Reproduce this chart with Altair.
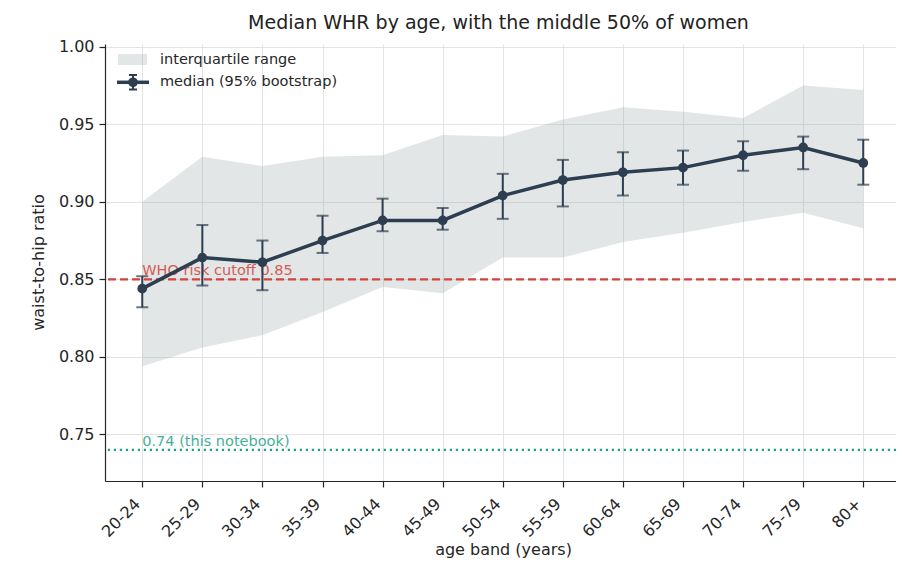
import json
import altair as alt
import pandas as pd

age_bands = ['20-24', '25-29', '30-34', '35-39', '40-44', '45-49', '50-54',
             '55-59', '60-64', '65-69', '70-74', '75-79', '80+']
median = [0.844, 0.864, 0.861, 0.875, 0.888, 0.888, 0.904, 0.914, 0.919, 0.922, 0.930, 0.935, 0.925]
ci_low = [0.832, 0.846, 0.843, 0.867, 0.881, 0.882, 0.889, 0.897, 0.904, 0.911, 0.920, 0.921, 0.911]
ci_high = [0.852, 0.885, 0.875, 0.891, 0.902, 0.896, 0.918, 0.927, 0.932, 0.933, 0.939, 0.942, 0.940]
q25 = [0.794, 0.806, 0.814, 0.829, 0.845, 0.841, 0.864, 0.864, 0.874, 0.880, 0.887, 0.893, 0.883]
q75 = [0.900, 0.929, 0.923, 0.929, 0.930, 0.943, 0.942, 0.953, 0.961, 0.958, 0.954, 0.975, 0.972]
y_ticks = [0.75, 0.80, 0.85, 0.90, 0.95, 1.00]
who_cutoff = 0.85
who_label = 'WHO risk cutoff 0.85'
notebook_value = 0.74
notebook_label = '0.74 (this notebook)'
legend_labels = ['interquartile range', 'median (95% bootstrap)']

df = pd.DataFrame({
    'i': list(range(len(age_bands))),
    'band': age_bands,
    'median': median,
    'lo': ci_low,
    'hi': ci_high,
    'q25': q25,
    'q75': q75,
})

FONT = 'DejaVu Sans'
NAVY = '#2c3e50'
RED = '#d4433a'
TEAL = '#1fa385'
BAND = '#9aa5aa'

xscale = alt.Scale(domain=[-0.62, 12.545], nice=False, zero=False)
yscale = alt.Scale(domain=[0.72, 1.0017], nice=False, zero=False)
xaxis = alt.Axis(values=list(range(len(age_bands))),
                 labelExpr=json.dumps(age_bands) + '[datum.value]',
                 labelAngle=-45, labelAlign='right', labelBaseline='middle',
                 labelOffset=-5, labelPadding=14,
                 title='age band (years)', titleX=398, titleY=68, titleBaseline='middle')
yaxis = alt.Axis(values=y_ticks, format='.2f', title='waist-to-hip ratio',
                 titleX=-67, titleY=218, titleAngle=-90, titleBaseline='middle',
                 titleAlign='center')


def X(f='i'):
    return alt.X(f + ':Q', scale=xscale, axis=xaxis)


def Y(f):
    return alt.Y(f + ':Q', scale=yscale, axis=yaxis)


base = alt.Chart(df)

band = base.mark_area(color=BAND, opacity=0.28).encode(x=X(), y=Y('q25'), y2='q75')

ref = pd.DataFrame({'i': [0, 0], 'y': [who_cutoff, notebook_value],
                    'label': [who_label, notebook_label]})
who_rule = alt.Chart(ref.iloc[[0]]).mark_rule(color=RED, strokeWidth=2.2, strokeDash=[8, 4]).encode(y=Y('y'))
who_text = alt.Chart(ref.iloc[[0]]).mark_text(color=RED, opacity=0.85, align='left', baseline='alphabetic',
                                              dy=-4, font=FONT, fontSize=14.5).encode(x=X(), y=Y('y'), text='label:N')
nb_rule = alt.Chart(ref.iloc[[1]]).mark_rule(color=TEAL, strokeWidth=2.2, strokeDash=[2.2, 3.8]).encode(y=Y('y'))
nb_text = alt.Chart(ref.iloc[[1]]).mark_text(color=TEAL, opacity=0.85, align='left', baseline='alphabetic',
                                             dy=-4, font=FONT, fontSize=14.5).encode(x=X(), y=Y('y'), text='label:N')

err = base.mark_rule(color=NAVY, strokeWidth=2).encode(x=X(), y=Y('lo'), y2='hi')
cap_lo = base.mark_tick(color=NAVY, orient='horizontal', size=12, thickness=2).encode(x=X(), y=Y('lo'))
cap_hi = base.mark_tick(color=NAVY, orient='horizontal', size=12, thickness=2).encode(x=X(), y=Y('hi'))
line = base.mark_line(color=NAVY, strokeWidth=3.5).encode(x=X(), y=Y('median'))
pts = base.mark_circle(color=NAVY, size=95, opacity=1).encode(x=X(), y=Y('median'))

one = alt.Chart(pd.DataFrame({'a': [0]}))
leg_patch = one.mark_rect(color=BAND, opacity=0.28).encode(
    x=alt.value(13), x2=alt.value(42), y=alt.value(10), y2=alt.value(21))
leg_line = one.mark_rule(color=NAVY, strokeWidth=3.5).encode(
    x=alt.value(12), x2=alt.value(44), y=alt.value(38.3))
leg_err = one.mark_rule(color=NAVY, strokeWidth=2).encode(
    x=alt.value(28), y=alt.value(31), y2=alt.value(45.5))
leg_cap1 = one.mark_rule(color=NAVY, strokeWidth=2).encode(
    x=alt.value(24), x2=alt.value(32), y=alt.value(31))
leg_cap2 = one.mark_rule(color=NAVY, strokeWidth=2).encode(
    x=alt.value(24), x2=alt.value(32), y=alt.value(45.5))
leg_pt = one.mark_circle(color=NAVY, size=95, opacity=1).encode(x=alt.value(28), y=alt.value(38.3))
leg_t1 = one.mark_text(text=legend_labels[0], align='left', baseline='alphabetic', font=FONT,
                       fontSize=14.5, color='#262626').encode(x=alt.value(55), y=alt.value(19.5))
leg_t2 = one.mark_text(text=legend_labels[1], align='left', baseline='alphabetic', font=FONT,
                       fontSize=14.5, color='#262626').encode(x=alt.value(55), y=alt.value(42))

chart = alt.layer(
    band, who_rule, who_text, nb_rule, nb_text, err, cap_lo, cap_hi, line, pts,
    leg_patch, leg_line, leg_err, leg_cap1, leg_cap2, leg_pt, leg_t1, leg_t2,
).properties(
    width=791, height=437,
    autosize=alt.AutoSizeParams(type='none'),
    padding={'left': 97, 'top': 36, 'right': 0, 'bottom': 84},
    title=alt.TitleParams('Median WHR by age, with the middle 50% of women', font=FONT, fontSize=19,
                          fontWeight='normal', color='#222222', anchor='middle',
                          baseline='alphabetic', offset=14.7, dy=24, dx=-2),
).configure_view(stroke=None).configure_axis(
    labelFont=FONT, labelFontSize=16, labelColor='#262626',
    titleFont=FONT, titleFontSize=16, titleColor='#262626', titleFontWeight='normal',
    tickColor='#262626', tickSize=6, tickWidth=1.2,
    domainColor='#262626', domainWidth=1.2,
    grid=True, gridColor='#e3e3e3', gridWidth=1,
).configure_axisY(labelPadding=5)

chart.save('out.html', embed_options={'renderer': 'svg', 'actions': False})
